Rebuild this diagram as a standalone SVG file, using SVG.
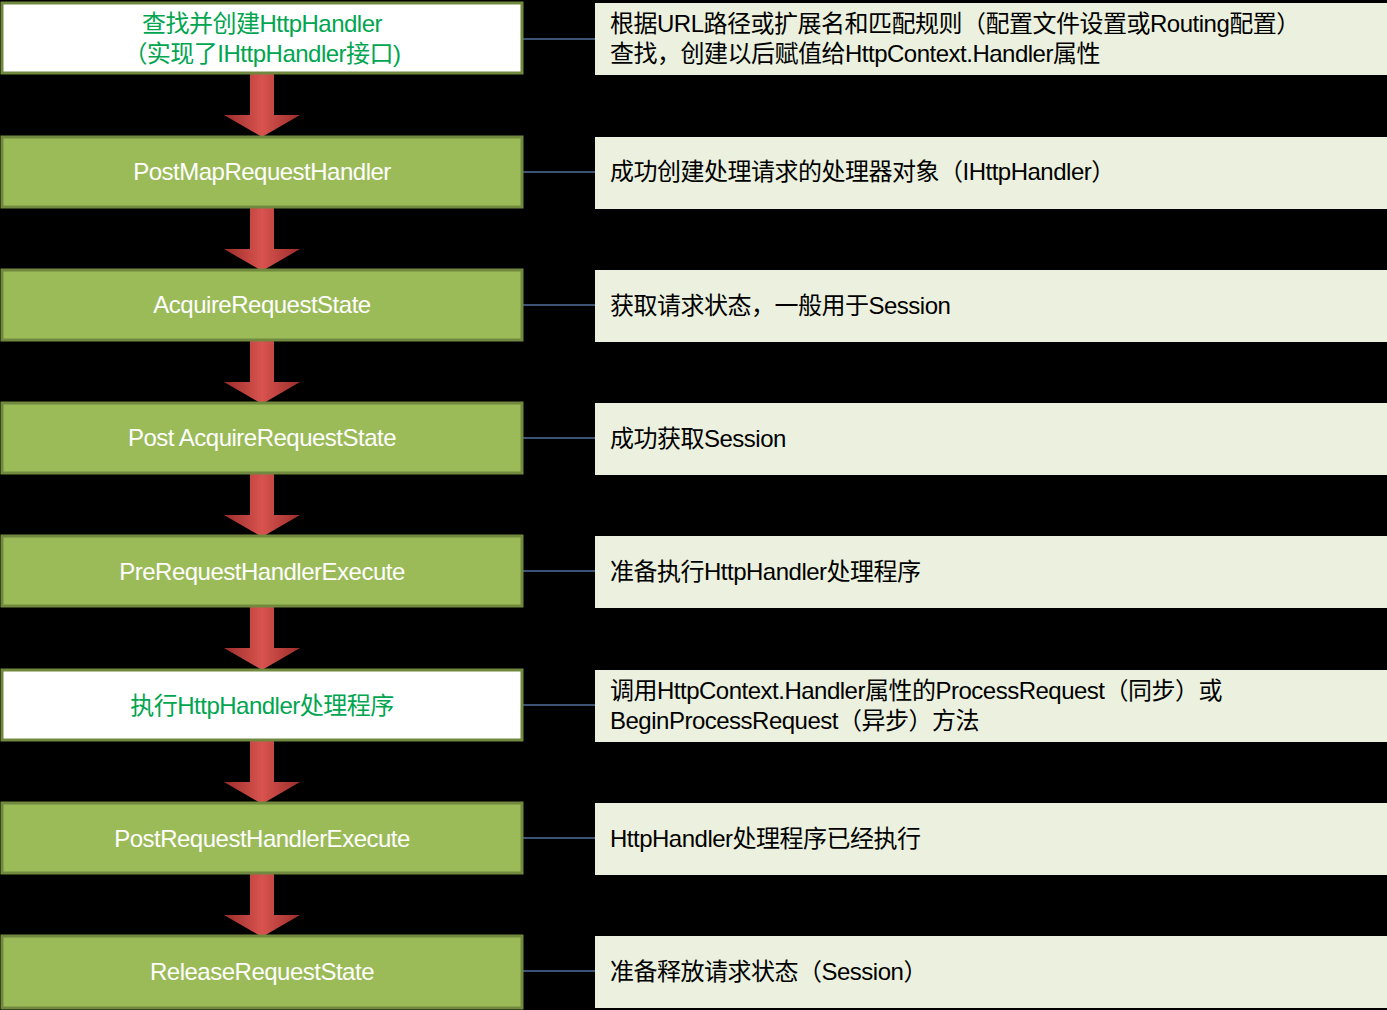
<svg xmlns="http://www.w3.org/2000/svg" width="1387" height="1010" viewBox="0 0 1387 1010">
<style>
.l{fill:#9bbb59;stroke:#71893f;stroke-width:3}
.w{fill:#ffffff;stroke:#71893f;stroke-width:3}
.r{fill:#ebf1de}
.t{font-family:"Liberation Sans","Noto Sans CJK SC",sans-serif;font-size:24px;letter-spacing:-0.5px}
.lt{fill:#ffffff;text-anchor:middle}
.gt{fill:#00a550;text-anchor:middle}
.rt{fill:#000000}
.c{stroke:#4f6f9f;stroke-width:1.5}
</style>
<defs>
<linearGradient id="ar" x1="0" x2="1" y1="0" y2="0">
<stop offset="0" stop-color="#9b2d2a"/><stop offset="0.5" stop-color="#d9534f"/><stop offset="1" stop-color="#9b2d2a"/>
</linearGradient>
<path id="arrow" d="M250,0 H274 V42 H300 L262,64 L224,42 H250 Z" fill="url(#ar)"/>
</defs>
<rect width="1387" height="1010" fill="#000"/>
<g id="connectors">
<line class="c" x1="522" y1="39" x2="595" y2="39"/>
<line class="c" x1="522" y1="172" x2="595" y2="172"/>
<line class="c" x1="522" y1="305" x2="595" y2="305"/>
<line class="c" x1="522" y1="438" x2="595" y2="438"/>
<line class="c" x1="522" y1="571" x2="595" y2="571"/>
<line class="c" x1="522" y1="705" x2="595" y2="705"/>
<line class="c" x1="522" y1="838" x2="595" y2="838"/>
<line class="c" x1="522" y1="971" x2="595" y2="971"/>
<use href="#arrow" y="73"/><use href="#arrow" y="207"/><use href="#arrow" y="340"/><use href="#arrow" y="473"/>
<use href="#arrow" y="606"/><use href="#arrow" y="740"/><use href="#arrow" y="873"/>
</g>
<g id="n1"><rect class="w" x="2" y="3" width="520" height="70"/>
<text class="t gt" x="262" y="32">查找并创建HttpHandler</text><text class="t gt" x="262" y="62">（实现了IHttpHandler接口)</text></g>
<g id="n2"><rect class="l" x="2" y="137" width="520" height="70"/><text class="t lt" x="262" y="180">PostMapRequestHandler</text></g>
<g id="n3"><rect class="l" x="2" y="270" width="520" height="70"/><text class="t lt" x="262" y="313">AcquireRequestState</text></g>
<g id="n4"><rect class="l" x="2" y="403" width="520" height="70"/><text class="t lt" x="262" y="446">Post AcquireRequestState</text></g>
<g id="n5"><rect class="l" x="2" y="536" width="520" height="70"/><text class="t lt" x="262" y="580">PreRequestHandlerExecute</text></g>
<g id="n6"><rect class="w" x="2" y="670" width="520" height="70"/><text class="t gt" x="262" y="714">执行HttpHandler处理程序</text></g>
<g id="n7"><rect class="l" x="2" y="803" width="520" height="70"/><text class="t lt" x="262" y="847">PostRequestHandlerExecute</text></g>
<g id="n8"><rect class="l" x="2" y="936" width="520" height="72"/><text class="t lt" x="262" y="980">ReleaseRequestState</text></g>
<g id="d1"><rect class="r" x="595" y="3" width="792" height="72"/><text class="t rt" x="610" y="32">根据URL路径或扩展名和匹配规则（配置文件设置或Routing配置）</text><text class="t rt" x="610" y="62">查找，创建以后赋值给HttpContext.Handler属性</text></g>
<g id="d2"><rect class="r" x="595" y="137" width="792" height="72"/><text class="t rt" x="610" y="180">成功创建处理请求的处理器对象（IHttpHandler）</text></g>
<g id="d3"><rect class="r" x="595" y="270" width="792" height="72"/><text class="t rt" x="610" y="314">获取请求状态，一般用于Session</text></g>
<g id="d4"><rect class="r" x="595" y="403" width="792" height="72"/><text class="t rt" x="610" y="447">成功获取Session</text></g>
<g id="d5"><rect class="r" x="595" y="536" width="792" height="72"/><text class="t rt" x="610" y="580">准备执行HttpHandler处理程序</text></g>
<g id="d6"><rect class="r" x="595" y="670" width="792" height="72"/><text class="t rt" x="610" y="699">调用HttpContext.Handler属性的ProcessRequest（同步）或</text><text class="t rt" x="610" y="729">BeginProcessRequest（异步）方法</text></g>
<g id="d7"><rect class="r" x="595" y="803" width="792" height="72"/><text class="t rt" x="610" y="847">HttpHandler处理程序已经执行</text></g>
<g id="d8"><rect class="r" x="595" y="936" width="792" height="72"/><text class="t rt" x="610" y="980">准备释放请求状态（Session）</text></g>
</svg>
